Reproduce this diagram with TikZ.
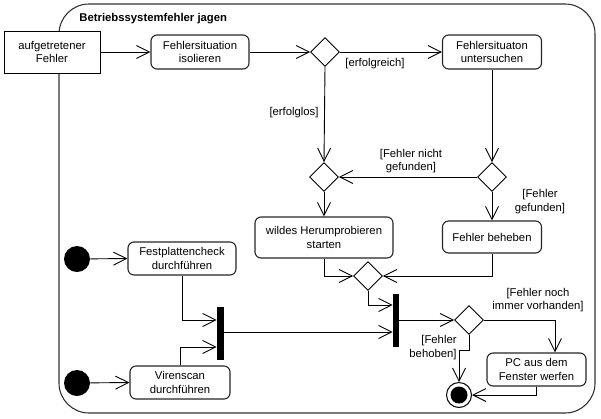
\documentclass[tikz,border=0pt]{standalone}
\usepackage{fontspec}
\setmainfont{Liberation Sans}
\usetikzlibrary{arrows.meta,shapes.geometric,calc}
\begin{document}
\begin{tikzpicture}[x=1pt,y=-1pt,
  font=\fontsize{11.3}{13.8}\selectfont,
  line width=0.9pt,
  act/.style={draw=black!85,rounded corners=6pt,fill=white,align=center,inner sep=0pt,line width=1.1pt},
  dec/.style={draw,diamond,fill=white,minimum width=29pt,minimum height=29pt,inner sep=0pt},
  bar/.style={fill=black,draw=none,inner sep=0pt},
  startn/.style={circle,fill=black,minimum size=26pt,inner sep=0pt},
  flow/.style={-{Straight Barb[length=13pt,width=13pt]}},
  lbl/.style={align=center,inner sep=0pt}]
\useasboundingbox (0,0) rectangle (601,418);
% frame
\draw[draw=black!80,line width=1.1pt,rounded corners=30pt] (59,4) rectangle (595,413);
\node[anchor=west,font=\fontsize{11.3}{13.8}\selectfont\bfseries,inner sep=0pt] (title) at (79,19) {Betriebssystemfehler jagen};
% nodes
\node[draw,fill=white,minimum width=96pt,minimum height=42pt,align=center,inner sep=0pt] (fehler) at (52,52) {aufgetretener\\Fehler};
\node[act,minimum width=98pt,minimum height=34pt] (isol) at (200,52) {Fehlersituation\\isolieren};
\node[dec] (d1) at (325,52) {};
\node[act,minimum width=99pt,minimum height=34pt] (unter) at (492,52) {Fehlersituaton\\untersuchen};
\node[dec] (d2) at (324,177) {};
\node[dec] (d3) at (492,177) {};
\node[act,minimum width=138pt,minimum height=41pt] (wild) at (324,237.5) {wildes Herumprobieren\\starten};
\node[act,minimum width=99pt,minimum height=32pt] (beheb) at (492,237) {Fehler beheben};
\node[dec] (d5) at (368,276) {};
\node[bar,minimum width=6pt,minimum height=53pt] (bar2) at (396,320.5) {};
\node[bar,minimum width=7pt,minimum height=53pt] (bar1) at (220.5,333.5) {};
\node[startn] (s1) at (77,259) {};
\node[startn] (s2) at (77,383) {};
\node[act,minimum width=108pt,minimum height=33pt] (fest) at (182,258.5) {Festplattencheck\\durchführen};
\node[act,minimum width=100pt,minimum height=33pt] (viren) at (180,382.5) {Virenscan\\durchführen};
\node[dec] (d4) at (469,320) {};
\node[act,minimum width=99pt,minimum height=33pt] (pc) at (536.5,369.5) {PC aus dem\\Fenster werfen};
\node[circle,draw,line width=1pt,fill=white,minimum size=25pt,inner sep=0pt] (final) at (459,395) {};
\fill (final.center) circle (8.5pt);
% labels
\node[lbl] (l1) at (375,64) {[erfolgreich]};
\node[lbl] (l2) at (294,113) {[erfolglos]};
\node[lbl] (l3) at (411,161) {[Fehler nicht\\gefunden]};
\node[lbl] (l4) at (540,201.5) {[Fehler\\gefunden]};
\node[lbl] (l5) at (538,300) {[Fehler noch\\immer vorhanden]};
\node[lbl,align=right] (l6) at (433,347.5) {[Fehler\\behoben]};
% connectors
\draw[flow] (fehler.east) -- (isol.west);
\draw[flow] (isol.east) -- (d1.west);
\draw[flow] (d1.east) -- (unter.west);
\draw[flow] (d1.south) -- (d2.north);
\draw[flow] (unter.south) -- (d3.north);
\draw[flow] (d3.west) -- (d2.east);
\draw[flow] (d3.south) -- (beheb.north);
\draw[flow] (d2.south) -- (wild.north);
\draw[flow] (wild.south) |- (d5.west);
\draw[flow] (beheb.south) |- (d5.east);
\draw[flow] (d5.south) |- ([yshift=15.5pt]bar2.west);
\draw[flow] ([yshift=1.5pt]bar1.east) -- ([yshift=1.5pt]bar1.east -| bar2.west);
\draw[flow] (bar2.east |- d4.west) -- (d4.west);
\draw[flow] (s1) -- (fest.west);
\draw[flow] (s2) -- (viren.west);
\draw[flow] (fest.south) |- ([yshift=13.5pt]bar1.west);
\draw[flow] (viren.north) |- ([yshift=-13.5pt]bar1.west);
\draw[flow] (d4.east) -| ([xshift=18.5pt]pc.north);
\draw[flow] (d4.south) -- ++(0,15) -| (final.north);
\draw[flow] (pc.south) |- (final.east);
\end{tikzpicture}
\end{document}
